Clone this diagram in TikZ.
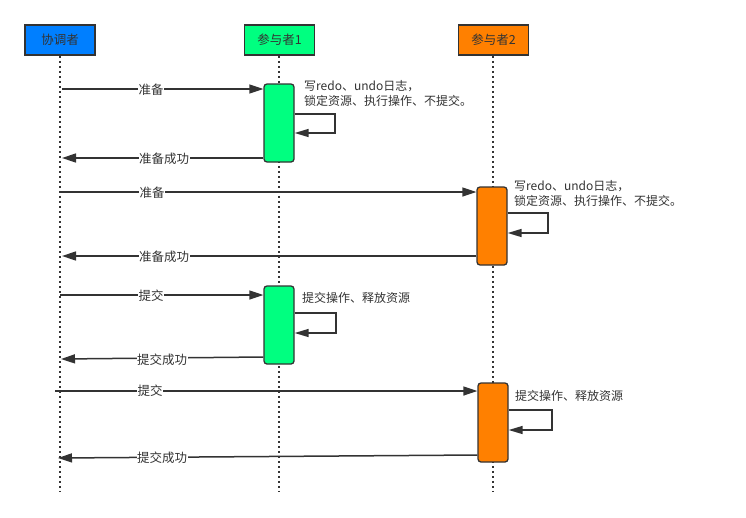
\documentclass[tikz,border=0pt]{standalone}
\usepackage{fontspec}
\setmainfont{Noto Sans CJK SC}
\usetikzlibrary{arrows.meta}
\definecolor{ink}{HTML}{333333}
\definecolor{cblue}{HTML}{007FFF}
\definecolor{cgreen}{HTML}{00FF80}
\definecolor{corange}{HTML}{FF8000}
\begin{document}
\begin{tikzpicture}[x=1pt,y=-1pt,
  head/.style={draw=ink,line width=1.5pt,minimum width=70pt,minimum height=30pt,inner sep=0pt,font=\fontsize{12.5}{14}\selectfont,text=ink},
  actbox/.style={draw=ink,line width=1.3pt,rounded corners=3pt,minimum width=30pt,inner sep=0pt},
  life/.style={ink,line width=2pt,dash pattern=on 2pt off 3pt},
  msg/.style={ink,line width=1.5pt,-{Triangle[length=14pt,width=9pt]}},
  loopmsg/.style={ink,line width=1.5pt,-{Triangle[length=14pt,width=8pt]}},
  lbl/.style={fill=white,inner sep=0.5pt,font=\fontsize{12.5}{14}\selectfont,text=ink},
  note/.style={align=left,inner sep=0pt,font=\fontsize{12}{15}\selectfont,text=ink,anchor=west}]
\useasboundingbox (0,0) rectangle (746,517);
% headers
\node[head,fill=cblue] (C) at (60,40) {协调者};
\node[head,fill=cgreen] (P1) at (279.5,40) {参与者1};
\node[head,fill=corange] (P2) at (493.5,40) {参与者2};
% lifeline ends
\coordinate (Ce) at (60,492);
\coordinate (P1e) at (279,492);
\coordinate (P2e) at (493,492);
\draw[life] (C.south) -- (Ce);
\draw[life] (P1.south -| 279,0) -- (P1e);
\draw[life] (P2.south -| 493,0) -- (P2e);
% activation boxes
\node[actbox,fill=cgreen,minimum height=78pt] (A1) at (279,123) {};
\node[actbox,fill=corange,minimum height=78pt] (B1) at (492,226) {};
\node[actbox,fill=cgreen,minimum height=78pt] (A2) at (279,325) {};
\node[actbox,fill=corange,minimum height=79pt] (B2) at (493,422.5) {};
% lifeline points of the coordinator
\coordinate (c1) at (62,89);
\coordinate (c2) at (62,158);
\coordinate (c3) at (60,192);
\coordinate (c4) at (62,256);
\coordinate (c5) at (60,295);
\coordinate (c6) at (61,359);
\coordinate (c7) at (55,391);
\coordinate (c8) at (58,458);
% messages
\draw[msg] (c1) -- (A1.west |- c1) node[lbl] at (151,89.5) {准备};
\draw[msg] (A1.west |- c2) -- (c2) node[lbl] at (164,158.5) {准备成功};
\draw[msg] (c3) -- (B1.west |- c3) node[lbl] at (152,193) {准备};
\draw[msg] (B1.west |- c4) -- (c4) node[lbl] at (164,256.5) {准备成功};
\draw[msg] (c5) -- (A2.west |- c5) node[lbl] at (151,296) {提交};
\draw[msg] (A2.west |- 0,357) -- (c6) node[lbl] at (162,359.5) {提交成功};
\draw[msg] (c7) -- (B2.west |- c7) node[lbl] at (150,391) {提交};
\draw[msg] (B2.west |- 0,455) -- (c8) node[lbl] at (162,458) {提交成功};
% self loops
\draw[loopmsg] (A1.east |- 0,114) -- (335,114) -- (335,133) -- (A1.east |- 0,133);
\draw[loopmsg] (B1.east |- 0,213) -- (548,213) -- (548,233) -- (B1.east |- 0,233);
\draw[loopmsg] (A2.east |- 0,313) -- (336,313) -- (336,333) -- (A2.east |- 0,333);
\draw[loopmsg] (B2.east |- 0,410) -- (552,410) -- (552,430) -- (B2.east |- 0,430);
% notes
\node[note] (n1) at (304,93.5) {写redo、undo日志，\\锁定资源、执行操作、不提交。};
\node[note] (n2) at (514,193.5) {写redo、undo日志，\\锁定资源、执行操作、不提交。};
\node[note] (n3) at (302,297.5) {提交操作、释放资源};
\node[note] (n4) at (515,396) {提交操作、释放资源};
\end{tikzpicture}
\end{document}
